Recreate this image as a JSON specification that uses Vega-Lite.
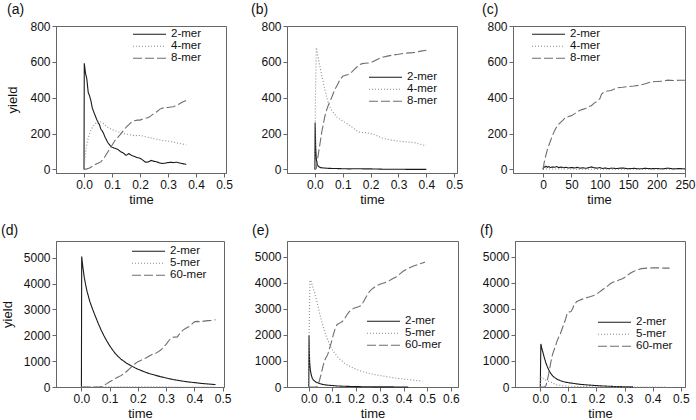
{
"$schema":"https://vega.github.io/schema/vega-lite/v6.json",
"padding":{"left":0,"top":2,"right":0,"bottom":0},
"datasets":{
"a":[
{"t":0,"y":0,"s":"2-mer"},{"t":0.001,"y":592,"s":"2-mer"},{"t":0.005,"y":540,"s":"2-mer"},{"t":0.01,"y":505,"s":"2-mer"},{"t":0.015,"y":430,"s":"2-mer"},{"t":0.02,"y":410,"s":"2-mer"},{"t":0.025,"y":380,"s":"2-mer"},{"t":0.03,"y":340,"s":"2-mer"},{"t":0.035,"y":320,"s":"2-mer"},{"t":0.04,"y":300,"s":"2-mer"},{"t":0.045,"y":280,"s":"2-mer"},{"t":0.05,"y":262,"s":"2-mer"},{"t":0.055,"y":250,"s":"2-mer"},{"t":0.06,"y":225,"s":"2-mer"},{"t":0.065,"y":215,"s":"2-mer"},{"t":0.07,"y":200,"s":"2-mer"},{"t":0.075,"y":180,"s":"2-mer"},{"t":0.08,"y":165,"s":"2-mer"},{"t":0.085,"y":150,"s":"2-mer"},{"t":0.09,"y":140,"s":"2-mer"},{"t":0.095,"y":130,"s":"2-mer"},{"t":0.1,"y":124,"s":"2-mer"},{"t":0.11,"y":118,"s":"2-mer"},{"t":0.12,"y":112,"s":"2-mer"},{"t":0.13,"y":100,"s":"2-mer"},{"t":0.14,"y":92,"s":"2-mer"},{"t":0.15,"y":78,"s":"2-mer"},{"t":0.16,"y":88,"s":"2-mer"},{"t":0.17,"y":78,"s":"2-mer"},{"t":0.18,"y":72,"s":"2-mer"},{"t":0.19,"y":66,"s":"2-mer"},{"t":0.2,"y":62,"s":"2-mer"},{"t":0.21,"y":52,"s":"2-mer"},{"t":0.22,"y":40,"s":"2-mer"},{"t":0.23,"y":42,"s":"2-mer"},{"t":0.24,"y":50,"s":"2-mer"},{"t":0.25,"y":45,"s":"2-mer"},{"t":0.26,"y":42,"s":"2-mer"},{"t":0.27,"y":36,"s":"2-mer"},{"t":0.28,"y":33,"s":"2-mer"},{"t":0.29,"y":35,"s":"2-mer"},{"t":0.3,"y":38,"s":"2-mer"},{"t":0.31,"y":40,"s":"2-mer"},{"t":0.32,"y":38,"s":"2-mer"},{"t":0.33,"y":40,"s":"2-mer"},{"t":0.34,"y":36,"s":"2-mer"},{"t":0.35,"y":33,"s":"2-mer"},{"t":0.365,"y":28,"s":"2-mer"},
{"t":0,"y":0,"s":"4-mer"},{"t":0.005,"y":90,"s":"4-mer"},{"t":0.01,"y":140,"s":"4-mer"},{"t":0.015,"y":175,"s":"4-mer"},{"t":0.02,"y":200,"s":"4-mer"},{"t":0.025,"y":220,"s":"4-mer"},{"t":0.03,"y":235,"s":"4-mer"},{"t":0.035,"y":245,"s":"4-mer"},{"t":0.04,"y":255,"s":"4-mer"},{"t":0.045,"y":262,"s":"4-mer"},{"t":0.05,"y":268,"s":"4-mer"},{"t":0.055,"y":270,"s":"4-mer"},{"t":0.06,"y":265,"s":"4-mer"},{"t":0.07,"y":255,"s":"4-mer"},{"t":0.08,"y":240,"s":"4-mer"},{"t":0.09,"y":230,"s":"4-mer"},{"t":0.1,"y":222,"s":"4-mer"},{"t":0.12,"y":210,"s":"4-mer"},{"t":0.14,"y":200,"s":"4-mer"},{"t":0.16,"y":195,"s":"4-mer"},{"t":0.18,"y":188,"s":"4-mer"},{"t":0.2,"y":190,"s":"4-mer"},{"t":0.22,"y":182,"s":"4-mer"},{"t":0.24,"y":175,"s":"4-mer"},{"t":0.26,"y":168,"s":"4-mer"},{"t":0.28,"y":162,"s":"4-mer"},{"t":0.3,"y":158,"s":"4-mer"},{"t":0.32,"y":152,"s":"4-mer"},{"t":0.34,"y":145,"s":"4-mer"},{"t":0.365,"y":138,"s":"4-mer"},
{"t":0,"y":0,"s":"8-mer"},{"t":0.01,"y":3,"s":"8-mer"},{"t":0.02,"y":8,"s":"8-mer"},{"t":0.03,"y":18,"s":"8-mer"},{"t":0.04,"y":28,"s":"8-mer"},{"t":0.05,"y":35,"s":"8-mer"},{"t":0.06,"y":42,"s":"8-mer"},{"t":0.07,"y":60,"s":"8-mer"},{"t":0.08,"y":85,"s":"8-mer"},{"t":0.09,"y":110,"s":"8-mer"},{"t":0.1,"y":135,"s":"8-mer"},{"t":0.11,"y":160,"s":"8-mer"},{"t":0.12,"y":178,"s":"8-mer"},{"t":0.13,"y":195,"s":"8-mer"},{"t":0.14,"y":215,"s":"8-mer"},{"t":0.15,"y":235,"s":"8-mer"},{"t":0.16,"y":250,"s":"8-mer"},{"t":0.17,"y":265,"s":"8-mer"},{"t":0.18,"y":272,"s":"8-mer"},{"t":0.19,"y":275,"s":"8-mer"},{"t":0.2,"y":275,"s":"8-mer"},{"t":0.21,"y":282,"s":"8-mer"},{"t":0.22,"y":285,"s":"8-mer"},{"t":0.23,"y":290,"s":"8-mer"},{"t":0.24,"y":300,"s":"8-mer"},{"t":0.25,"y":312,"s":"8-mer"},{"t":0.26,"y":322,"s":"8-mer"},{"t":0.27,"y":335,"s":"8-mer"},{"t":0.28,"y":342,"s":"8-mer"},{"t":0.29,"y":345,"s":"8-mer"},{"t":0.3,"y":345,"s":"8-mer"},{"t":0.31,"y":348,"s":"8-mer"},{"t":0.32,"y":350,"s":"8-mer"},{"t":0.33,"y":358,"s":"8-mer"},{"t":0.34,"y":365,"s":"8-mer"},{"t":0.35,"y":375,"s":"8-mer"},{"t":0.365,"y":385,"s":"8-mer"}
],
"b":[
{"t":0,"y":0,"s":"2-mer"},{"t":0.001,"y":262,"s":"2-mer"},{"t":0.003,"y":120,"s":"2-mer"},{"t":0.005,"y":60,"s":"2-mer"},{"t":0.008,"y":30,"s":"2-mer"},{"t":0.012,"y":18,"s":"2-mer"},{"t":0.02,"y":10,"s":"2-mer"},{"t":0.03,"y":8,"s":"2-mer"},{"t":0.05,"y":6,"s":"2-mer"},{"t":0.07,"y":5,"s":"2-mer"},{"t":0.1,"y":4,"s":"2-mer"},{"t":0.12,"y":3,"s":"2-mer"},{"t":0.15,"y":4,"s":"2-mer"},{"t":0.18,"y":3,"s":"2-mer"},{"t":0.2,"y":3,"s":"2-mer"},{"t":0.25,"y":1,"s":"2-mer"},{"t":0.3,"y":1,"s":"2-mer"},{"t":0.35,"y":0,"s":"2-mer"},{"t":0.4,"y":0,"s":"2-mer"},
{"t":0,"y":0,"s":"4-mer"},{"t":0.002,"y":400,"s":"4-mer"},{"t":0.005,"y":680,"s":"4-mer"},{"t":0.01,"y":640,"s":"4-mer"},{"t":0.015,"y":600,"s":"4-mer"},{"t":0.02,"y":560,"s":"4-mer"},{"t":0.025,"y":520,"s":"4-mer"},{"t":0.03,"y":490,"s":"4-mer"},{"t":0.035,"y":450,"s":"4-mer"},{"t":0.04,"y":420,"s":"4-mer"},{"t":0.045,"y":390,"s":"4-mer"},{"t":0.05,"y":360,"s":"4-mer"},{"t":0.06,"y":330,"s":"4-mer"},{"t":0.07,"y":310,"s":"4-mer"},{"t":0.08,"y":290,"s":"4-mer"},{"t":0.09,"y":280,"s":"4-mer"},{"t":0.1,"y":270,"s":"4-mer"},{"t":0.11,"y":260,"s":"4-mer"},{"t":0.12,"y":250,"s":"4-mer"},{"t":0.13,"y":240,"s":"4-mer"},{"t":0.14,"y":228,"s":"4-mer"},{"t":0.15,"y":215,"s":"4-mer"},{"t":0.16,"y":208,"s":"4-mer"},{"t":0.18,"y":205,"s":"4-mer"},{"t":0.2,"y":200,"s":"4-mer"},{"t":0.22,"y":190,"s":"4-mer"},{"t":0.24,"y":175,"s":"4-mer"},{"t":0.26,"y":168,"s":"4-mer"},{"t":0.28,"y":162,"s":"4-mer"},{"t":0.3,"y":158,"s":"4-mer"},{"t":0.32,"y":155,"s":"4-mer"},{"t":0.34,"y":152,"s":"4-mer"},{"t":0.36,"y":148,"s":"4-mer"},{"t":0.38,"y":140,"s":"4-mer"},{"t":0.4,"y":132,"s":"4-mer"},
{"t":0,"y":0,"s":"8-mer"},{"t":0.005,"y":5,"s":"8-mer"},{"t":0.01,"y":60,"s":"8-mer"},{"t":0.015,"y":110,"s":"8-mer"},{"t":0.02,"y":160,"s":"8-mer"},{"t":0.025,"y":210,"s":"8-mer"},{"t":0.03,"y":250,"s":"8-mer"},{"t":0.035,"y":290,"s":"8-mer"},{"t":0.04,"y":320,"s":"8-mer"},{"t":0.045,"y":345,"s":"8-mer"},{"t":0.05,"y":365,"s":"8-mer"},{"t":0.06,"y":400,"s":"8-mer"},{"t":0.07,"y":440,"s":"8-mer"},{"t":0.08,"y":470,"s":"8-mer"},{"t":0.09,"y":500,"s":"8-mer"},{"t":0.1,"y":520,"s":"8-mer"},{"t":0.11,"y":525,"s":"8-mer"},{"t":0.12,"y":530,"s":"8-mer"},{"t":0.13,"y":540,"s":"8-mer"},{"t":0.14,"y":555,"s":"8-mer"},{"t":0.15,"y":570,"s":"8-mer"},{"t":0.16,"y":585,"s":"8-mer"},{"t":0.17,"y":590,"s":"8-mer"},{"t":0.18,"y":592,"s":"8-mer"},{"t":0.2,"y":595,"s":"8-mer"},{"t":0.22,"y":610,"s":"8-mer"},{"t":0.24,"y":625,"s":"8-mer"},{"t":0.26,"y":632,"s":"8-mer"},{"t":0.28,"y":638,"s":"8-mer"},{"t":0.3,"y":642,"s":"8-mer"},{"t":0.32,"y":648,"s":"8-mer"},{"t":0.34,"y":650,"s":"8-mer"},{"t":0.36,"y":652,"s":"8-mer"},{"t":0.38,"y":660,"s":"8-mer"},{"t":0.4,"y":665,"s":"8-mer"}
],
"c":[
{"t":0,"y":0,"s":"2-mer"},{"t":1,"y":15,"s":"2-mer"},{"t":3,"y":12,"s":"2-mer"},{"t":5,"y":18,"s":"2-mer"},{"t":8,"y":12,"s":"2-mer"},{"t":10,"y":16,"s":"2-mer"},{"t":13,"y":10,"s":"2-mer"},{"t":16,"y":14,"s":"2-mer"},{"t":20,"y":12,"s":"2-mer"},{"t":24,"y":16,"s":"2-mer"},{"t":28,"y":10,"s":"2-mer"},{"t":32,"y":13,"s":"2-mer"},{"t":36,"y":9,"s":"2-mer"},{"t":40,"y":12,"s":"2-mer"},{"t":45,"y":8,"s":"2-mer"},{"t":50,"y":11,"s":"2-mer"},{"t":55,"y":8,"s":"2-mer"},{"t":60,"y":12,"s":"2-mer"},{"t":65,"y":7,"s":"2-mer"},{"t":70,"y":9,"s":"2-mer"},{"t":75,"y":6,"s":"2-mer"},{"t":80,"y":10,"s":"2-mer"},{"t":85,"y":14,"s":"2-mer"},{"t":90,"y":9,"s":"2-mer"},{"t":95,"y":7,"s":"2-mer"},{"t":100,"y":10,"s":"2-mer"},{"t":105,"y":5,"s":"2-mer"},{"t":110,"y":8,"s":"2-mer"},{"t":115,"y":4,"s":"2-mer"},{"t":120,"y":7,"s":"2-mer"},{"t":130,"y":5,"s":"2-mer"},{"t":140,"y":8,"s":"2-mer"},{"t":150,"y":4,"s":"2-mer"},{"t":160,"y":6,"s":"2-mer"},{"t":170,"y":3,"s":"2-mer"},{"t":180,"y":6,"s":"2-mer"},{"t":190,"y":4,"s":"2-mer"},{"t":200,"y":5,"s":"2-mer"},{"t":210,"y":3,"s":"2-mer"},{"t":220,"y":7,"s":"2-mer"},{"t":230,"y":3,"s":"2-mer"},{"t":240,"y":5,"s":"2-mer"},{"t":250,"y":3,"s":"2-mer"},
{"t":0,"y":0,"s":"4-mer"},{"t":2,"y":3,"s":"4-mer"},{"t":20,"y":2,"s":"4-mer"},{"t":50,"y":2,"s":"4-mer"},{"t":100,"y":1,"s":"4-mer"},{"t":150,"y":1,"s":"4-mer"},{"t":200,"y":1,"s":"4-mer"},{"t":250,"y":1,"s":"4-mer"},
{"t":0,"y":0,"s":"8-mer"},{"t":2,"y":40,"s":"8-mer"},{"t":5,"y":80,"s":"8-mer"},{"t":8,"y":115,"s":"8-mer"},{"t":12,"y":150,"s":"8-mer"},{"t":16,"y":185,"s":"8-mer"},{"t":20,"y":215,"s":"8-mer"},{"t":25,"y":245,"s":"8-mer"},{"t":30,"y":260,"s":"8-mer"},{"t":35,"y":275,"s":"8-mer"},{"t":40,"y":290,"s":"8-mer"},{"t":45,"y":295,"s":"8-mer"},{"t":50,"y":300,"s":"8-mer"},{"t":55,"y":310,"s":"8-mer"},{"t":60,"y":320,"s":"8-mer"},{"t":65,"y":330,"s":"8-mer"},{"t":70,"y":335,"s":"8-mer"},{"t":75,"y":340,"s":"8-mer"},{"t":80,"y":350,"s":"8-mer"},{"t":85,"y":355,"s":"8-mer"},{"t":90,"y":370,"s":"8-mer"},{"t":95,"y":380,"s":"8-mer"},{"t":100,"y":395,"s":"8-mer"},{"t":103,"y":420,"s":"8-mer"},{"t":107,"y":430,"s":"8-mer"},{"t":110,"y":435,"s":"8-mer"},{"t":120,"y":440,"s":"8-mer"},{"t":130,"y":455,"s":"8-mer"},{"t":140,"y":458,"s":"8-mer"},{"t":150,"y":462,"s":"8-mer"},{"t":160,"y":465,"s":"8-mer"},{"t":170,"y":470,"s":"8-mer"},{"t":180,"y":478,"s":"8-mer"},{"t":190,"y":488,"s":"8-mer"},{"t":200,"y":490,"s":"8-mer"},{"t":210,"y":492,"s":"8-mer"},{"t":220,"y":498,"s":"8-mer"},{"t":230,"y":496,"s":"8-mer"},{"t":240,"y":497,"s":"8-mer"},{"t":250,"y":497,"s":"8-mer"}
],
"d":[
{"t":0,"y":0,"s":"2-mer"},{"t":0.001,"y":5050,"s":"2-mer"},{"t":0.005,"y":4650,"s":"2-mer"},{"t":0.01,"y":4250,"s":"2-mer"},{"t":0.015,"y":3950,"s":"2-mer"},{"t":0.02,"y":3700,"s":"2-mer"},{"t":0.03,"y":3300,"s":"2-mer"},{"t":0.04,"y":3000,"s":"2-mer"},{"t":0.05,"y":2720,"s":"2-mer"},{"t":0.06,"y":2450,"s":"2-mer"},{"t":0.07,"y":2200,"s":"2-mer"},{"t":0.08,"y":1980,"s":"2-mer"},{"t":0.09,"y":1780,"s":"2-mer"},{"t":0.1,"y":1600,"s":"2-mer"},{"t":0.11,"y":1440,"s":"2-mer"},{"t":0.12,"y":1300,"s":"2-mer"},{"t":0.13,"y":1180,"s":"2-mer"},{"t":0.14,"y":1080,"s":"2-mer"},{"t":0.15,"y":1000,"s":"2-mer"},{"t":0.16,"y":920,"s":"2-mer"},{"t":0.17,"y":860,"s":"2-mer"},{"t":0.18,"y":800,"s":"2-mer"},{"t":0.19,"y":740,"s":"2-mer"},{"t":0.2,"y":690,"s":"2-mer"},{"t":0.22,"y":600,"s":"2-mer"},{"t":0.24,"y":520,"s":"2-mer"},{"t":0.26,"y":460,"s":"2-mer"},{"t":0.28,"y":400,"s":"2-mer"},{"t":0.3,"y":350,"s":"2-mer"},{"t":0.32,"y":300,"s":"2-mer"},{"t":0.34,"y":260,"s":"2-mer"},{"t":0.36,"y":225,"s":"2-mer"},{"t":0.38,"y":195,"s":"2-mer"},{"t":0.4,"y":170,"s":"2-mer"},{"t":0.42,"y":145,"s":"2-mer"},{"t":0.44,"y":125,"s":"2-mer"},{"t":0.46,"y":105,"s":"2-mer"},{"t":0.475,"y":95,"s":"2-mer"},
{"t":0,"y":0,"s":"5-mer"},{"t":0.01,"y":15,"s":"5-mer"},{"t":0.05,"y":10,"s":"5-mer"},{"t":0.1,"y":8,"s":"5-mer"},{"t":0.2,"y":5,"s":"5-mer"},{"t":0.3,"y":3,"s":"5-mer"},{"t":0.4,"y":2,"s":"5-mer"},{"t":0.475,"y":2,"s":"5-mer"},
{"t":0,"y":0,"s":"60-mer"},{"t":0.06,"y":0,"s":"60-mer"},{"t":0.07,"y":5,"s":"60-mer"},{"t":0.08,"y":60,"s":"60-mer"},{"t":0.09,"y":130,"s":"60-mer"},{"t":0.1,"y":200,"s":"60-mer"},{"t":0.11,"y":260,"s":"60-mer"},{"t":0.12,"y":330,"s":"60-mer"},{"t":0.13,"y":390,"s":"60-mer"},{"t":0.14,"y":440,"s":"60-mer"},{"t":0.15,"y":510,"s":"60-mer"},{"t":0.16,"y":600,"s":"60-mer"},{"t":0.17,"y":700,"s":"60-mer"},{"t":0.18,"y":800,"s":"60-mer"},{"t":0.19,"y":900,"s":"60-mer"},{"t":0.2,"y":980,"s":"60-mer"},{"t":0.21,"y":1030,"s":"60-mer"},{"t":0.22,"y":1080,"s":"60-mer"},{"t":0.23,"y":1130,"s":"60-mer"},{"t":0.24,"y":1200,"s":"60-mer"},{"t":0.25,"y":1260,"s":"60-mer"},{"t":0.26,"y":1280,"s":"60-mer"},{"t":0.27,"y":1350,"s":"60-mer"},{"t":0.28,"y":1420,"s":"60-mer"},{"t":0.29,"y":1530,"s":"60-mer"},{"t":0.3,"y":1650,"s":"60-mer"},{"t":0.31,"y":1800,"s":"60-mer"},{"t":0.32,"y":1920,"s":"60-mer"},{"t":0.33,"y":1930,"s":"60-mer"},{"t":0.34,"y":1940,"s":"60-mer"},{"t":0.35,"y":2100,"s":"60-mer"},{"t":0.36,"y":2200,"s":"60-mer"},{"t":0.37,"y":2270,"s":"60-mer"},{"t":0.38,"y":2330,"s":"60-mer"},{"t":0.39,"y":2420,"s":"60-mer"},{"t":0.4,"y":2520,"s":"60-mer"},{"t":0.41,"y":2540,"s":"60-mer"},{"t":0.42,"y":2530,"s":"60-mer"},{"t":0.43,"y":2540,"s":"60-mer"},{"t":0.44,"y":2560,"s":"60-mer"},{"t":0.45,"y":2570,"s":"60-mer"},{"t":0.46,"y":2580,"s":"60-mer"},{"t":0.475,"y":2600,"s":"60-mer"}
],
"e":[
{"t":0,"y":0,"s":"2-mer"},{"t":0.001,"y":1980,"s":"2-mer"},{"t":0.002,"y":1400,"s":"2-mer"},{"t":0.004,"y":900,"s":"2-mer"},{"t":0.007,"y":620,"s":"2-mer"},{"t":0.01,"y":480,"s":"2-mer"},{"t":0.015,"y":330,"s":"2-mer"},{"t":0.02,"y":260,"s":"2-mer"},{"t":0.03,"y":190,"s":"2-mer"},{"t":0.04,"y":150,"s":"2-mer"},{"t":0.05,"y":120,"s":"2-mer"},{"t":0.06,"y":95,"s":"2-mer"},{"t":0.08,"y":70,"s":"2-mer"},{"t":0.1,"y":55,"s":"2-mer"},{"t":0.12,"y":40,"s":"2-mer"},{"t":0.15,"y":28,"s":"2-mer"},{"t":0.2,"y":15,"s":"2-mer"},{"t":0.25,"y":8,"s":"2-mer"},{"t":0.3,"y":5,"s":"2-mer"},{"t":0.35,"y":3,"s":"2-mer"},{"t":0.42,"y":2,"s":"2-mer"},
{"t":0,"y":0,"s":"5-mer"},{"t":0.002,"y":2500,"s":"5-mer"},{"t":0.005,"y":4100,"s":"5-mer"},{"t":0.01,"y":4050,"s":"5-mer"},{"t":0.015,"y":3900,"s":"5-mer"},{"t":0.02,"y":3750,"s":"5-mer"},{"t":0.025,"y":3600,"s":"5-mer"},{"t":0.03,"y":3420,"s":"5-mer"},{"t":0.035,"y":3250,"s":"5-mer"},{"t":0.04,"y":3050,"s":"5-mer"},{"t":0.045,"y":2850,"s":"5-mer"},{"t":0.05,"y":2680,"s":"5-mer"},{"t":0.055,"y":2500,"s":"5-mer"},{"t":0.06,"y":2330,"s":"5-mer"},{"t":0.065,"y":2180,"s":"5-mer"},{"t":0.07,"y":2050,"s":"5-mer"},{"t":0.075,"y":1920,"s":"5-mer"},{"t":0.08,"y":1800,"s":"5-mer"},{"t":0.09,"y":1600,"s":"5-mer"},{"t":0.1,"y":1420,"s":"5-mer"},{"t":0.11,"y":1290,"s":"5-mer"},{"t":0.12,"y":1180,"s":"5-mer"},{"t":0.13,"y":1080,"s":"5-mer"},{"t":0.14,"y":1000,"s":"5-mer"},{"t":0.15,"y":920,"s":"5-mer"},{"t":0.16,"y":860,"s":"5-mer"},{"t":0.18,"y":760,"s":"5-mer"},{"t":0.2,"y":680,"s":"5-mer"},{"t":0.22,"y":610,"s":"5-mer"},{"t":0.24,"y":560,"s":"5-mer"},{"t":0.26,"y":510,"s":"5-mer"},{"t":0.28,"y":470,"s":"5-mer"},{"t":0.3,"y":440,"s":"5-mer"},{"t":0.32,"y":410,"s":"5-mer"},{"t":0.34,"y":380,"s":"5-mer"},{"t":0.36,"y":350,"s":"5-mer"},{"t":0.38,"y":325,"s":"5-mer"},{"t":0.4,"y":305,"s":"5-mer"},{"t":0.42,"y":285,"s":"5-mer"},{"t":0.44,"y":265,"s":"5-mer"},{"t":0.46,"y":245,"s":"5-mer"},{"t":0.48,"y":225,"s":"5-mer"},
{"t":0,"y":0,"s":"60-mer"},{"t":0.03,"y":0,"s":"60-mer"},{"t":0.035,"y":20,"s":"60-mer"},{"t":0.04,"y":100,"s":"60-mer"},{"t":0.045,"y":250,"s":"60-mer"},{"t":0.05,"y":420,"s":"60-mer"},{"t":0.055,"y":600,"s":"60-mer"},{"t":0.06,"y":800,"s":"60-mer"},{"t":0.065,"y":960,"s":"60-mer"},{"t":0.07,"y":1080,"s":"60-mer"},{"t":0.075,"y":1160,"s":"60-mer"},{"t":0.08,"y":1250,"s":"60-mer"},{"t":0.085,"y":1400,"s":"60-mer"},{"t":0.09,"y":1560,"s":"60-mer"},{"t":0.095,"y":1700,"s":"60-mer"},{"t":0.1,"y":1880,"s":"60-mer"},{"t":0.105,"y":2050,"s":"60-mer"},{"t":0.11,"y":2200,"s":"60-mer"},{"t":0.115,"y":2320,"s":"60-mer"},{"t":0.12,"y":2400,"s":"60-mer"},{"t":0.13,"y":2450,"s":"60-mer"},{"t":0.14,"y":2500,"s":"60-mer"},{"t":0.15,"y":2600,"s":"60-mer"},{"t":0.16,"y":2750,"s":"60-mer"},{"t":0.17,"y":2880,"s":"60-mer"},{"t":0.18,"y":2960,"s":"60-mer"},{"t":0.19,"y":3020,"s":"60-mer"},{"t":0.2,"y":3050,"s":"60-mer"},{"t":0.21,"y":3080,"s":"60-mer"},{"t":0.22,"y":3120,"s":"60-mer"},{"t":0.23,"y":3250,"s":"60-mer"},{"t":0.24,"y":3420,"s":"60-mer"},{"t":0.25,"y":3580,"s":"60-mer"},{"t":0.26,"y":3700,"s":"60-mer"},{"t":0.27,"y":3780,"s":"60-mer"},{"t":0.28,"y":3850,"s":"60-mer"},{"t":0.29,"y":3900,"s":"60-mer"},{"t":0.3,"y":3940,"s":"60-mer"},{"t":0.31,"y":3970,"s":"60-mer"},{"t":0.32,"y":4000,"s":"60-mer"},{"t":0.33,"y":4030,"s":"60-mer"},{"t":0.34,"y":4080,"s":"60-mer"},{"t":0.35,"y":4130,"s":"60-mer"},{"t":0.36,"y":4180,"s":"60-mer"},{"t":0.37,"y":4230,"s":"60-mer"},{"t":0.38,"y":4300,"s":"60-mer"},{"t":0.39,"y":4380,"s":"60-mer"},{"t":0.4,"y":4450,"s":"60-mer"},{"t":0.42,"y":4550,"s":"60-mer"},{"t":0.44,"y":4630,"s":"60-mer"},{"t":0.46,"y":4700,"s":"60-mer"},{"t":0.48,"y":4760,"s":"60-mer"},{"t":0.49,"y":4790,"s":"60-mer"}
],
"f":[
{"t":0,"y":0,"s":"2-mer"},{"t":0.002,"y":1650,"s":"2-mer"},{"t":0.005,"y":1500,"s":"2-mer"},{"t":0.01,"y":1300,"s":"2-mer"},{"t":0.015,"y":1100,"s":"2-mer"},{"t":0.02,"y":920,"s":"2-mer"},{"t":0.025,"y":780,"s":"2-mer"},{"t":0.03,"y":660,"s":"2-mer"},{"t":0.035,"y":560,"s":"2-mer"},{"t":0.04,"y":480,"s":"2-mer"},{"t":0.045,"y":420,"s":"2-mer"},{"t":0.05,"y":370,"s":"2-mer"},{"t":0.06,"y":300,"s":"2-mer"},{"t":0.07,"y":250,"s":"2-mer"},{"t":0.08,"y":210,"s":"2-mer"},{"t":0.09,"y":185,"s":"2-mer"},{"t":0.1,"y":165,"s":"2-mer"},{"t":0.11,"y":150,"s":"2-mer"},{"t":0.12,"y":135,"s":"2-mer"},{"t":0.13,"y":120,"s":"2-mer"},{"t":0.14,"y":105,"s":"2-mer"},{"t":0.15,"y":95,"s":"2-mer"},{"t":0.16,"y":85,"s":"2-mer"},{"t":0.18,"y":70,"s":"2-mer"},{"t":0.2,"y":55,"s":"2-mer"},{"t":0.22,"y":40,"s":"2-mer"},{"t":0.25,"y":25,"s":"2-mer"},{"t":0.28,"y":15,"s":"2-mer"},{"t":0.31,"y":8,"s":"2-mer"},{"t":0.33,"y":5,"s":"2-mer"},
{"t":0,"y":0,"s":"5-mer"},{"t":0.003,"y":380,"s":"5-mer"},{"t":0.006,"y":360,"s":"5-mer"},{"t":0.01,"y":320,"s":"5-mer"},{"t":0.02,"y":270,"s":"5-mer"},{"t":0.03,"y":220,"s":"5-mer"},{"t":0.04,"y":170,"s":"5-mer"},{"t":0.05,"y":120,"s":"5-mer"},{"t":0.06,"y":80,"s":"5-mer"},{"t":0.08,"y":50,"s":"5-mer"},{"t":0.1,"y":30,"s":"5-mer"},{"t":0.15,"y":15,"s":"5-mer"},{"t":0.2,"y":8,"s":"5-mer"},{"t":0.3,"y":3,"s":"5-mer"},{"t":0.4,"y":1,"s":"5-mer"},{"t":0.45,"y":1,"s":"5-mer"},
{"t":0,"y":0,"s":"60-mer"},{"t":0.015,"y":0,"s":"60-mer"},{"t":0.02,"y":50,"s":"60-mer"},{"t":0.025,"y":250,"s":"60-mer"},{"t":0.03,"y":500,"s":"60-mer"},{"t":0.035,"y":800,"s":"60-mer"},{"t":0.04,"y":1100,"s":"60-mer"},{"t":0.045,"y":1300,"s":"60-mer"},{"t":0.05,"y":1450,"s":"60-mer"},{"t":0.055,"y":1600,"s":"60-mer"},{"t":0.06,"y":1780,"s":"60-mer"},{"t":0.065,"y":1900,"s":"60-mer"},{"t":0.07,"y":2000,"s":"60-mer"},{"t":0.075,"y":2150,"s":"60-mer"},{"t":0.08,"y":2300,"s":"60-mer"},{"t":0.085,"y":2450,"s":"60-mer"},{"t":0.09,"y":2600,"s":"60-mer"},{"t":0.095,"y":2800,"s":"60-mer"},{"t":0.1,"y":2880,"s":"60-mer"},{"t":0.105,"y":2880,"s":"60-mer"},{"t":0.11,"y":2900,"s":"60-mer"},{"t":0.115,"y":3000,"s":"60-mer"},{"t":0.12,"y":3150,"s":"60-mer"},{"t":0.13,"y":3280,"s":"60-mer"},{"t":0.14,"y":3330,"s":"60-mer"},{"t":0.15,"y":3370,"s":"60-mer"},{"t":0.16,"y":3410,"s":"60-mer"},{"t":0.17,"y":3440,"s":"60-mer"},{"t":0.18,"y":3470,"s":"60-mer"},{"t":0.19,"y":3510,"s":"60-mer"},{"t":0.2,"y":3560,"s":"60-mer"},{"t":0.21,"y":3640,"s":"60-mer"},{"t":0.22,"y":3720,"s":"60-mer"},{"t":0.23,"y":3800,"s":"60-mer"},{"t":0.24,"y":3880,"s":"60-mer"},{"t":0.25,"y":3970,"s":"60-mer"},{"t":0.26,"y":4030,"s":"60-mer"},{"t":0.27,"y":4060,"s":"60-mer"},{"t":0.28,"y":4100,"s":"60-mer"},{"t":0.29,"y":4140,"s":"60-mer"},{"t":0.3,"y":4200,"s":"60-mer"},{"t":0.31,"y":4280,"s":"60-mer"},{"t":0.32,"y":4360,"s":"60-mer"},{"t":0.33,"y":4420,"s":"60-mer"},{"t":0.34,"y":4470,"s":"60-mer"},{"t":0.35,"y":4510,"s":"60-mer"},{"t":0.36,"y":4540,"s":"60-mer"},{"t":0.38,"y":4560,"s":"60-mer"},{"t":0.4,"y":4570,"s":"60-mer"},{"t":0.42,"y":4570,"s":"60-mer"},{"t":0.44,"y":4560,"s":"60-mer"},{"t":0.46,"y":4560,"s":"60-mer"}
]
},
"spacing":16,
"resolve":{"scale":{"x":"independent","y":"independent","color":"independent","strokeDash":"independent"},"legend":{"color":"independent","strokeDash":"independent"}},
"vconcat":[
{"hconcat":[
{"width":170,"height":147,"data":{"name":"a"},
"title":{"text":"(a)","anchor":"start","frame":"group","dx":-49},
"mark":{"type":"line","strokeWidth":1.1},
"encoding":{
"x":{"field":"t","type":"quantitative","scale":{"domain":[-0.1,0.507],"nice":false,"zero":false},"axis":{"values":[0,0.1,0.2,0.3,0.4,0.5],"format":".1f","title":"time"}},
"y":{"field":"y","type":"quantitative","scale":{"domain":[-20,800],"nice":false,"zero":false},"axis":{"values":[0,200,400,600,800],"format":"d","title":"yield","titlePadding":10}},
"strokeDash":{"field":"s","type":"nominal","scale":{"domain":["2-mer","4-mer","8-mer"],"range":[[1,0],[1,2],[9,3]]},"legend":{"orient":"none","legendX":76,"legendY":3}},
"color":{"field":"s","type":"nominal","scale":{"domain":["2-mer","4-mer","8-mer"],"range":["#1a1a1a","#8c8c8c","#6e6e6e"]},"legend":{"orient":"none","legendX":76,"legendY":3}}}},
{"width":170,"height":147,"data":{"name":"b"},
"title":{"text":"(b)","anchor":"start","frame":"group","dx":-36},
"mark":{"type":"line","strokeWidth":1.1},
"encoding":{
"x":{"field":"t","type":"quantitative","scale":{"domain":[-0.1,0.51],"nice":false,"zero":false},"axis":{"values":[0,0.1,0.2,0.3,0.4,0.5],"format":".1f","title":"time"}},
"y":{"field":"y","type":"quantitative","scale":{"domain":[-20,800],"nice":false,"zero":false},"axis":{"values":[0,200,400,600,800],"format":"d","title":null}},
"strokeDash":{"field":"s","type":"nominal","scale":{"domain":["2-mer","4-mer","8-mer"],"range":[[1,0],[1,2],[9,3]]},"legend":{"orient":"none","legendX":81,"legendY":46}},
"color":{"field":"s","type":"nominal","scale":{"domain":["2-mer","4-mer","8-mer"],"range":["#1a1a1a","#8c8c8c","#6e6e6e"]},"legend":{"orient":"none","legendX":81,"legendY":46}}}},
{"width":172,"height":147,"data":{"name":"c"},
"title":{"text":"(c)","anchor":"start","frame":"group","dx":-31},
"mark":{"type":"line","strokeWidth":1.1},
"encoding":{
"x":{"field":"t","type":"quantitative","scale":{"domain":[-53,250],"nice":false,"zero":false},"axis":{"values":[0,50,100,150,200,250],"title":"time"}},
"y":{"field":"y","type":"quantitative","scale":{"domain":[-20,800],"nice":false,"zero":false},"axis":{"values":[0,200,400,600,800],"format":"d","title":null}},
"strokeDash":{"field":"s","type":"nominal","scale":{"domain":["2-mer","4-mer","8-mer"],"range":[[1,0],[1,2],[9,3]]},"legend":{"orient":"none","legendX":18,"legendY":3}},
"color":{"field":"s","type":"nominal","scale":{"domain":["2-mer","4-mer","8-mer"],"range":["#1a1a1a","#8c8c8c","#6e6e6e"]},"legend":{"orient":"none","legendX":18,"legendY":3}}}}
],"spacing":17,
"resolve":{"scale":{"x":"independent","y":"independent","color":"independent","strokeDash":"independent"},"legend":{"color":"independent","strokeDash":"independent"}}},
{"hconcat":[
{"width":168,"height":146,"data":{"name":"d"},
"title":{"text":"(d)","anchor":"start","frame":"group","dx":-55},
"mark":{"type":"line","strokeWidth":1.1},
"encoding":{
"x":{"field":"t","type":"quantitative","scale":{"domain":[-0.09,0.505],"nice":false,"zero":false},"axis":{"values":[0,0.1,0.2,0.3,0.4,0.5],"format":".1f","title":"time"}},
"y":{"field":"y","type":"quantitative","scale":{"domain":[0,5650],"nice":false,"zero":false},"axis":{"values":[0,1000,2000,3000,4000,5000],"format":"d","title":"yield","titlePadding":9}},
"strokeDash":{"field":"s","type":"nominal","scale":{"domain":["2-mer","5-mer","60-mer"],"range":[[1,0],[1,2],[9,3]]},"legend":{"orient":"none","legendX":75,"legendY":5}},
"color":{"field":"s","type":"nominal","scale":{"domain":["2-mer","5-mer","60-mer"],"range":["#1a1a1a","#8c8c8c","#6e6e6e"]},"legend":{"orient":"none","legendX":75,"legendY":5}}}},
{"width":171,"height":146,"data":{"name":"e"},
"title":{"text":"(e)","anchor":"start","frame":"group","dx":-35},
"mark":{"type":"line","strokeWidth":1.1},
"encoding":{
"x":{"field":"t","type":"quantitative","scale":{"domain":[-0.092,0.63],"nice":false,"zero":false},"axis":{"values":[0,0.1,0.2,0.3,0.4,0.5,0.6],"format":".1f","title":"time"}},
"y":{"field":"y","type":"quantitative","scale":{"domain":[0,5600],"nice":false,"zero":false},"axis":{"values":[0,1000,2000,3000,4000,5000],"format":"d","title":null}},
"strokeDash":{"field":"s","type":"nominal","scale":{"domain":["2-mer","5-mer","60-mer"],"range":[[1,0],[1,2],[9,3]]},"legend":{"orient":"none","legendX":79,"legendY":75}},
"color":{"field":"s","type":"nominal","scale":{"domain":["2-mer","5-mer","60-mer"],"range":["#1a1a1a","#8c8c8c","#6e6e6e"]},"legend":{"orient":"none","legendX":79,"legendY":75}}}},
{"width":170,"height":146,"data":{"name":"f"},
"title":{"text":"(f)","anchor":"start","frame":"group","dx":-35},
"mark":{"type":"line","strokeWidth":1.1},
"encoding":{
"x":{"field":"t","type":"quantitative","scale":{"domain":[-0.09,0.515],"nice":false,"zero":false},"axis":{"values":[0,0.1,0.2,0.3,0.4,0.5],"format":".1f","title":"time"}},
"y":{"field":"y","type":"quantitative","scale":{"domain":[0,5600],"nice":false,"zero":false},"axis":{"values":[0,1000,2000,3000,4000,5000],"format":"d","title":null}},
"strokeDash":{"field":"s","type":"nominal","scale":{"domain":["2-mer","5-mer","60-mer"],"range":[[1,0],[1,2],[9,3]]},"legend":{"orient":"none","legendX":82,"legendY":76}},
"color":{"field":"s","type":"nominal","scale":{"domain":["2-mer","5-mer","60-mer"],"range":["#1a1a1a","#8c8c8c","#6e6e6e"]},"legend":{"orient":"none","legendX":82,"legendY":76}}}}
],"spacing":19,
"resolve":{"scale":{"x":"independent","y":"independent","color":"independent","strokeDash":"independent"},"legend":{"color":"independent","strokeDash":"independent"}}}
],
"config":{
"font":"Liberation Sans",
"view":{"stroke":"#666","strokeWidth":1},
"axis":{"grid":false,"labelFontSize":12,"labelColor":"#111","titleFontSize":13,"titleFontWeight":"normal","titleColor":"#111","tickColor":"#666","domainColor":"#666","tickSize":4,"labelPadding":2,"titlePadding":3,"labelFlush":false,"labelOverlap":false},
"axisY":{"titlePadding":10},
"title":{"fontSize":14,"fontWeight":"normal","color":"#111","offset":3},
"legend":{"title":null,"symbolType":"stroke","symbolSize":1089,"symbolStrokeWidth":1.2,"labelFontSize":11.5,"labelColor":"#111","clipHeight":10.5,"rowPadding":0,"padding":0,"labelOffset":4}
}
}
